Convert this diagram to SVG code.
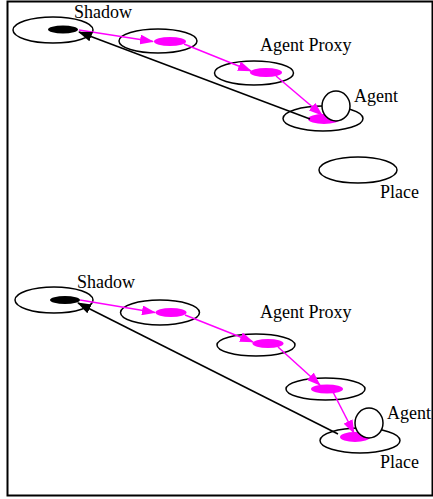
<svg xmlns="http://www.w3.org/2000/svg" width="433" height="499" viewBox="0 0 433 499">
<style>
.frame{fill:none;stroke:#000;stroke-width:2}
.outer{fill:none;stroke:#000;stroke-width:1.5}
.shadow{fill:#000;stroke:none}
.proxy{fill:#ff00ff;stroke:none}
.agent{fill:#fff;stroke:#000;stroke-width:1.5}
.mag{fill:none;stroke:#ff00ff;stroke-width:1.5}
.blk{fill:none;stroke:#000;stroke-width:1.5}
text{font-family:"Liberation Serif","Times New Roman",serif;font-size:18px;fill:#000}
</style>
<defs>
<marker id="am" markerUnits="userSpaceOnUse" markerWidth="14" markerHeight="10" refX="13" refY="5" orient="auto"><path d="M0,0 L14,5 L0,10 z" fill="#ff00ff"/></marker>
<marker id="ab" markerUnits="userSpaceOnUse" markerWidth="14" markerHeight="10" refX="13" refY="5" orient="auto"><path d="M0,0 L14,5 L0,10 z" fill="#000"/></marker>
</defs>
<rect class="frame" x="7.5" y="1.5" width="425" height="494"/>

<!-- top panel -->
<g id="shadow1"><ellipse class="outer" cx="53" cy="30" rx="40" ry="13"/><ellipse class="shadow" cx="63" cy="29.5" rx="15" ry="4"/><text x="74" y="18">Shadow</text></g>
<g id="proxy1a"><ellipse class="outer" cx="158" cy="41" rx="39" ry="12"/><ellipse class="proxy" cx="170" cy="41.5" rx="16" ry="4.5"/></g>
<g id="proxy1b"><ellipse class="outer" cx="254" cy="73" rx="39.5" ry="12"/><ellipse class="proxy" cx="266" cy="72.5" rx="16" ry="4.5"/><text x="260" y="51">Agent Proxy</text></g>
<g id="place1a"><ellipse class="outer" cx="323" cy="118.5" rx="40" ry="12.5"/><ellipse class="proxy" cx="324" cy="119" rx="16" ry="5"/></g>
<g id="place1b"><ellipse class="outer" cx="358" cy="170" rx="39" ry="13"/><text x="380" y="198">Place</text></g>

<!-- bottom panel -->
<g id="shadow2"><ellipse class="outer" cx="54" cy="300" rx="39" ry="13"/><ellipse class="shadow" cx="65" cy="300" rx="15" ry="4"/><text x="77" y="288">Shadow</text></g>
<g id="proxy2a"><ellipse class="outer" cx="160" cy="312.5" rx="39.5" ry="12.5"/><ellipse class="proxy" cx="171" cy="312.5" rx="15.5" ry="4.5"/></g>
<g id="proxy2b"><ellipse class="outer" cx="256" cy="345" rx="39" ry="11"/><ellipse class="proxy" cx="268" cy="343.5" rx="15.5" ry="4.5"/><text x="260" y="318">Agent Proxy</text></g>
<g id="proxy2c"><ellipse class="outer" cx="325.5" cy="389" rx="39.5" ry="11"/><ellipse class="proxy" cx="327" cy="389" rx="16" ry="4.5"/></g>
<g id="place2"><ellipse class="outer" cx="360" cy="440.5" rx="40" ry="12.5"/><ellipse class="proxy" cx="355" cy="437" rx="15" ry="5"/><text x="380" y="468">Place</text></g>

<g id="connectors">
<line class="mag" x1="79" y1="30" x2="153" y2="41.5" marker-end="url(#am)"/>
<line class="mag" x1="184" y1="44" x2="251" y2="71" marker-end="url(#am)"/>
<line class="mag" x1="276" y1="76" x2="322" y2="115" marker-end="url(#am)"/>
<line class="blk" x1="310" y1="119" x2="79" y2="32" marker-end="url(#ab)"/>
<line class="mag" x1="80" y1="300" x2="155" y2="312.5" marker-end="url(#am)"/>
<line class="mag" x1="185" y1="315" x2="253" y2="342" marker-end="url(#am)"/>
<line class="mag" x1="278" y1="347" x2="320" y2="385" marker-end="url(#am)"/>
<line class="mag" x1="333" y1="392" x2="354" y2="433" marker-end="url(#am)"/>
<line class="blk" x1="338" y1="434" x2="78" y2="303" marker-end="url(#ab)"/>
</g>

<g id="agent1"><ellipse class="agent" cx="336" cy="106" rx="14" ry="15"/><text x="354" y="102">Agent</text></g>
<g id="agent2"><ellipse class="agent" cx="369" cy="423" rx="14" ry="15"/><text x="387" y="419">Agent</text></g>
</svg>
